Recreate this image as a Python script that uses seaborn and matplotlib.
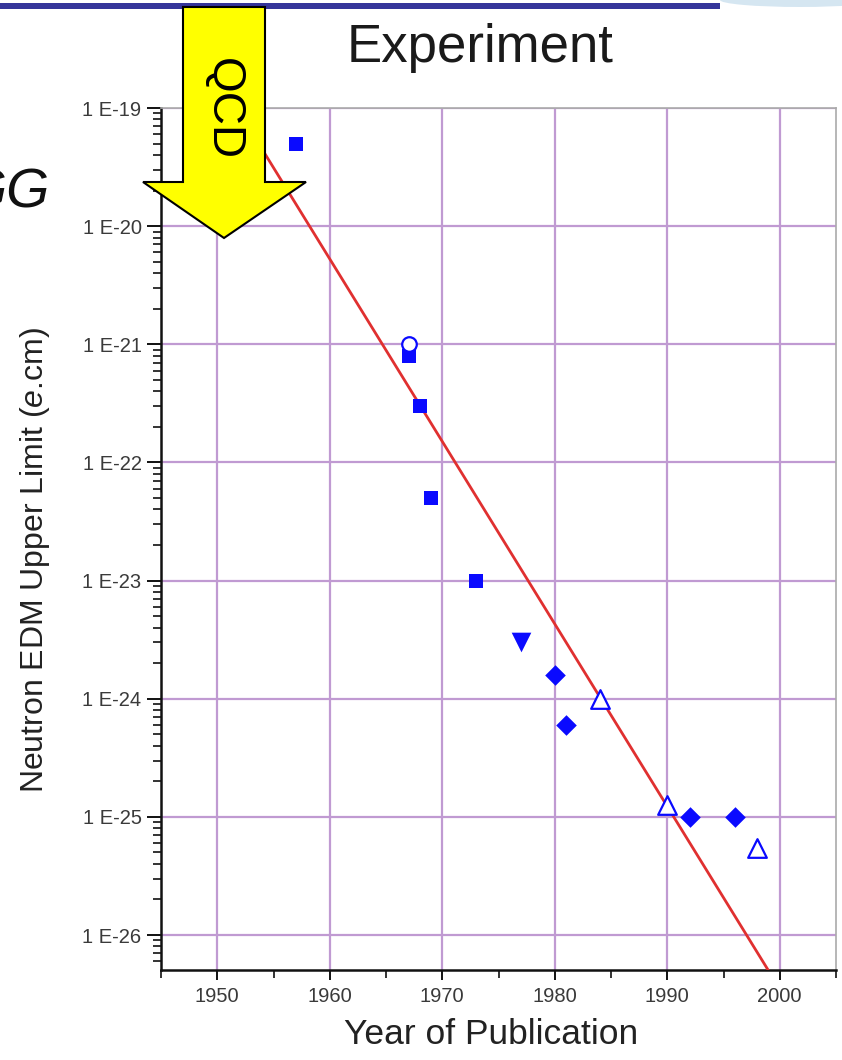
import matplotlib
matplotlib.use("Agg")
import matplotlib.pyplot as plt
from matplotlib.patches import Polygon, Rectangle, Ellipse
from matplotlib.ticker import FixedLocator, LogLocator, NullFormatter
import numpy as np
import pandas as pd
import seaborn as sns

# Neutron EDM upper limits by year of publication, grouped by technique
sq_years = [1957, 1967, 1968, 1969, 1973]
sq_limits = [5e-20, 8e-22, 3e-22, 5e-23, 1e-23]

circ_years = [1967]
circ_limits = [1e-21]

tri_down_years = [1977]
tri_down_limits = [3e-24]

diam_years = [1980, 1981, 1992, 1996]
diam_limits = [1.6e-24, 6e-25, 1e-25, 1e-25]

tri_open_years = [1984, 1990, 1998]
tri_open_limits = [1e-24, 1.25e-25, 5.5e-26]

# exponential trend line through the data
fit_years = [1950, 2000]
fit_limits = [1.85e-19, 3.5e-27]

x_ticks = [1950, 1960, 1970, 1980, 1990, 2000]
y_ticks = [1e-26, 1e-25, 1e-24, 1e-23, 1e-22, 1e-21, 1e-20, 1e-19]
y_ticklabels = ["1 E-26", "1 E-25", "1 E-24", "1 E-23", "1 E-22", "1 E-21", "1 E-20", "1 E-19"]

sns.set_theme(style="white")
plt.rcParams["font.family"] = ["Liberation Sans", "DejaVu Sans"]
plt.rcParams["mathtext.fontset"] = "custom"
plt.rcParams["mathtext.rm"] = "Liberation Sans"
plt.rcParams["mathtext.it"] = "Liberation Sans:italic"

W, H = 842, 1060
fig = plt.figure(figsize=(W / 100, H / 100), dpi=100)
ax = fig.add_axes([161 / W, 1 - 970 / H, (836 - 161) / W, (970 - 108) / H])

BLUE = "#0a0aff"

sns.lineplot(x=fit_years, y=fit_limits, ax=ax, color="#e03030", linewidth=2, zorder=3)

df_sq = pd.DataFrame({"year": sq_years, "limit": sq_limits})
sns.scatterplot(data=df_sq, x="year", y="limit", ax=ax, marker="s", s=105,
                color=BLUE, edgecolor=BLUE, linewidth=0, zorder=4)

df_circ = pd.DataFrame({"year": circ_years, "limit": circ_limits})
sns.scatterplot(data=df_circ, x="year", y="limit", ax=ax, marker="o", s=110,
                facecolor="white", edgecolor=BLUE, linewidth=1.6, zorder=4)

df_td = pd.DataFrame({"year": tri_down_years, "limit": tri_down_limits})
sns.scatterplot(data=df_td, x="year", y="limit", ax=ax, marker="v", s=200,
                color=BLUE, edgecolor=BLUE, linewidth=0, zorder=4)

df_d = pd.DataFrame({"year": diam_years, "limit": diam_limits})
sns.scatterplot(data=df_d, x="year", y="limit", ax=ax, marker="D", s=110,
                color=BLUE, edgecolor=BLUE, linewidth=0, zorder=4)

df_to = pd.DataFrame({"year": tri_open_years, "limit": tri_open_limits})
sns.scatterplot(data=df_to, x="year", y="limit", ax=ax, marker="^", s=180,
                facecolor="white", edgecolor=BLUE, linewidth=1.6, zorder=4)

ax.set_yscale("log")
ax.set_xlim(1945, 2005)
ax.set_ylim(10 ** -26.296, 1e-19)

ax.xaxis.set_major_locator(FixedLocator(x_ticks))
ax.xaxis.set_minor_locator(FixedLocator([1945, 1955, 1965, 1975, 1985, 1995, 2005]))
ax.yaxis.set_major_locator(FixedLocator(y_ticks))
ax.yaxis.set_minor_locator(LogLocator(base=10, subs=np.arange(2, 10), numticks=20))
ax.yaxis.set_minor_formatter(NullFormatter())
ax.set_yticklabels(y_ticklabels)

ax.grid(True, which="major", color="#c09ad2", linewidth=1.6, zorder=0)
ax.set_axisbelow(True)

for side in ["left", "bottom"]:
    ax.spines[side].set_color("#111111")
    ax.spines[side].set_linewidth(1.8)
for side in ["top", "right"]:
    ax.spines[side].set_color("#aaaaaa")
    ax.spines[side].set_linewidth(1.2)

ax.tick_params(axis="y", which="major", direction="out", length=10, width=1.4,
               color="#111111", labelsize=14.5, labelcolor="#3a3a3a", pad=4, left=True)
ax.tick_params(axis="y", which="minor", direction="out", length=6, width=1.2,
               color="#111111", left=True)
ax.tick_params(axis="x", which="major", direction="out", length=7, width=1.4,
               color="#111111", labelsize=14.5, labelcolor="#3a3a3a", pad=5, bottom=True)
ax.tick_params(axis="x", which="minor", direction="out", length=6, width=1.2,
               color="#111111", bottom=True)

ax.set_xlabel("Year of Publication", fontsize=25.5, color="#222222")
ax.xaxis.set_label_coords((491 - 161) / 675, -(1034 - 970) / 862)
ax.set_ylabel("Neutron EDM Upper Limit ($\\it{e}$.cm)", fontsize=23, color="#222222")
ax.yaxis.set_label_coords((35 - 161) / 675, (970 - 560) / 862)
ax.xaxis.label.set_va("center")
ax.yaxis.label.set_va("center")

fig.text(480 / W, 1 - 48 / H, "Experiment", fontsize=38, color="#1a1a1a",
         ha="center", va="center")

# slide decoration: title rule and swoosh at the top
fig.patches.append(Rectangle((0, 1 - 9 / H), 720 / W, 6 / H, transform=fig.transFigure,
                             facecolor="#35359a", edgecolor="none", zorder=6))
fig.patches.append(Ellipse((800 / W, 1 - 0 / H), 160 / W, 14 / H, transform=fig.transFigure,
                           facecolor="#c4dcec", edgecolor="none", alpha=0.7, zorder=6))

# italic fragment at the left edge
fig.text(50 / W, 1 - 207 / H, "GG", fontsize=40, style="italic", color="#111111",
         ha="right", va="baseline")

# QCD arrow pointing down
arrow_px = [(183, 7), (265, 7), (265, 182), (306, 182), (224, 238),
            (143, 182), (183, 182)]
arrow_pts = [(x / W, 1 - y / H) for x, y in arrow_px]
fig.patches.append(Polygon(arrow_pts, closed=True, transform=fig.transFigure,
                           facecolor="#ffff00", edgecolor="black", linewidth=1.5, zorder=10))
fig.text(223 / W, 1 - 109 / H, "QCD", fontsize=33, rotation=-90, color="black",
         ha="center", va="center", zorder=11)

fig.savefig("out.png", dpi=100)
